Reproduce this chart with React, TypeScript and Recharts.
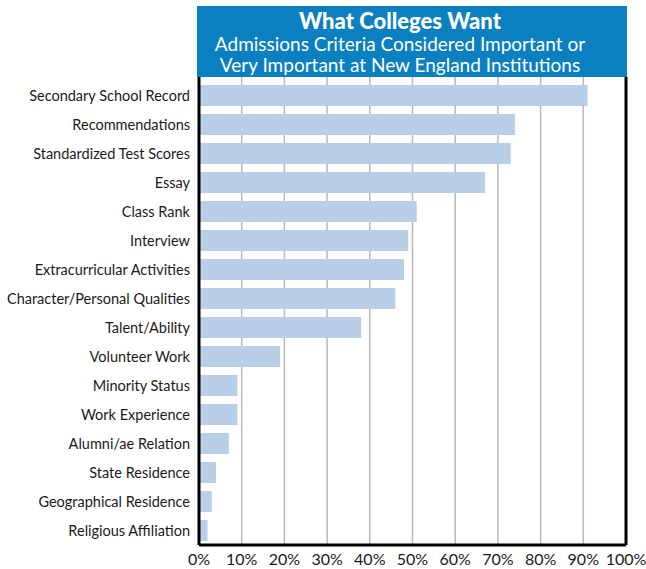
import React from "react";
import { BarChart, Bar, XAxis, YAxis, CartesianGrid, ReferenceLine } from "recharts";

const categories = [
  "Secondary School Record",
  "Recommendations",
  "Standardized Test Scores",
  "Essay",
  "Class Rank",
  "Interview",
  "Extracurricular Activities",
  "Character/Personal Qualities",
  "Talent/Ability",
  "Volunteer Work",
  "Minority Status",
  "Work Experience",
  "Alumni/ae Relation",
  "State Residence",
  "Geographical Residence",
  "Religious Affiliation",
];
const values = [91, 74, 73, 67, 51, 49, 48, 46, 38, 19, 9, 9, 7, 4, 3, 2];
const xTicks = [0, 10, 20, 30, 40, 50, 60, 70, 80, 90, 100];
const title = "What Colleges Want";
const subtitleLines = [
  "Admissions Criteria Considered Important or",
  "Very Important at New England Institutions",
];

const data = categories.map((name, i) => ({ name, value: values[i] }));

const FONT = "Lato, 'DejaVu Sans', sans-serif";

export default function App() {
  return (
    <div style={{ position: "absolute", left: 0, top: 0, width: 646, height: 569, background: "#fff" }}>
      <BarChart
        width={646}
        height={569}
        data={data}
        layout="vertical"
        margin={{ top: 77, right: 20, bottom: 0, left: 0 }}
        barCategoryGap={8}
      >
        <CartesianGrid horizontal={false} vertical={true} stroke="#b8b8b8" strokeWidth={1.5} />
        <XAxis
          type="number"
          domain={[0, 100]}
          ticks={xTicks}
          height={24}
          tickFormatter={(v: number) => `${v}%`}
          axisLine={{ stroke: "#000", strokeWidth: 3 }}
          tickLine={false}
          tickSize={0}
          tickMargin={9}
          interval={0}
          tick={{ fill: "#1a1a1a", fontSize: 16, fontFamily: FONT }}
        />
        <YAxis
          type="category"
          dataKey="name"
          width={199}
          padding={{ top: 4, bottom: 0 }}
          axisLine={{ stroke: "#000", strokeWidth: 3 }}
          tickLine={false}
          tickSize={0}
          tickMargin={9}
          interval={0}
          tick={{ fill: "#1a1a1a", fontSize: 14.5, fontFamily: FONT }}
        />
        <ReferenceLine x={100} stroke="#000" strokeWidth={3} />
        <Bar dataKey="value" fill="#b9cfe7" barSize={21} isAnimationActive={false} />
      </BarChart>
      <div
        style={{
          position: "absolute",
          left: 197,
          top: 6,
          width: 430,
          height: 71,
          background: "#0a80c0",
          color: "#fff",
          fontFamily: FONT,
          textAlign: "center",
          boxSizing: "border-box",
          paddingTop: 3,
          paddingRight: 24,
        }}
      >
        <div style={{ fontSize: 22, fontWeight: 900, lineHeight: "24px" }}>{title}</div>
        {subtitleLines.map((l) => (
          <div key={l} style={{ fontSize: 19, lineHeight: "21px" }}>
            {l}
          </div>
        ))}
      </div>
    </div>
  );
}
